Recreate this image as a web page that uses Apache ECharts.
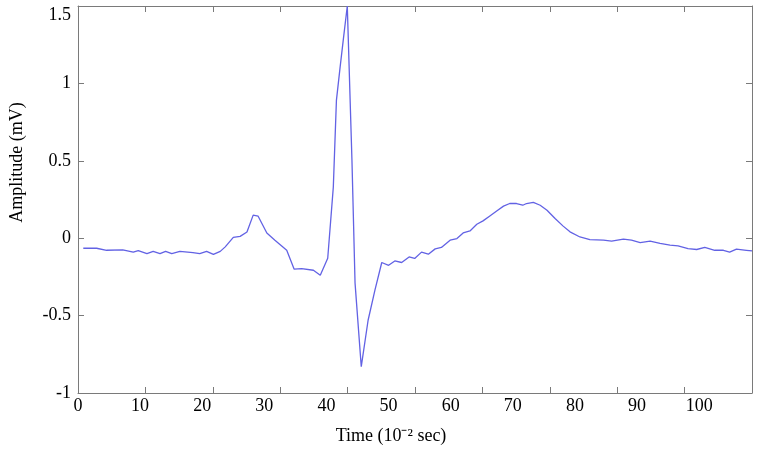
<!DOCTYPE html>
<html>
<head>
<meta charset="utf-8">
<script src="https://cdn.jsdelivr.net/npm/echarts@6/dist/echarts.min.js"></script>
<style>
html,body{margin:0;padding:0;background:#fff;}
#chart{width:760px;height:458px;}
</style>
</head>
<body>
<div id="chart"></div>
<script>
// Time (10^-2 sec)
const timeValues = [
  0.85, 3.0, 4.6, 7.2, 8.9, 9.7, 11.1, 12.1, 13.2, 14.1, 15.1, 16.4, 18.5, 19.6, 20.7, 21.8, 22.9, 23.7,
  25.0, 26.1, 27.2, 28.2, 29.0, 30.4, 31.7, 33.6, 34.8, 36.0, 37.9, 39.0, 40.2,
  41.1, 41.6, 42.2, 42.7, 43.35, 44.1, 44.6, 45.6, 46.7, 47.8, 48.9,
  50.0, 51.0, 52.1, 53.3, 54.2, 55.3, 56.4, 57.5, 58.5, 59.9, 61.0, 62.0, 63.1, 64.2, 65.2, 66.3, 67.4,
  68.5, 69.5, 70.6, 71.6, 72.2, 73.3, 74.4, 75.5, 76.8, 78.1, 79.2, 80.8, 82.4, 84.6, 85.9, 87.8,
  89.1, 90.5, 92.1, 93.7, 95.3, 96.6, 98.2, 99.6, 100.9, 102.5, 103.9, 104.9, 106.0, 107.6, 108.5
];
// Amplitude (mV)
const amplitudeValues = [
  -0.065, -0.065, -0.078, -0.075, -0.09, -0.08, -0.10, -0.085, -0.10, -0.085, -0.10, -0.085, -0.093, -0.10, -0.085, -0.105, -0.085, -0.056,
  0.005, 0.012, 0.04, 0.149, 0.142, 0.034, -0.013, -0.078, -0.2, -0.196, -0.207, -0.239, -0.13,
  0.33, 0.89, 1.107, 1.28, 1.5, 0.504, -0.29, -0.83, -0.53, -0.336, -0.157,
  -0.175, -0.147, -0.157, -0.121, -0.131, -0.09, -0.103, -0.069, -0.06, -0.013, -0.002, 0.034, 0.047, 0.09, 0.112, 0.144, 0.176,
  0.207, 0.224, 0.224, 0.213, 0.224, 0.231, 0.213, 0.181, 0.127, 0.078, 0.041, 0.008, -0.009, -0.013, -0.019, -0.006,
  -0.013, -0.028, -0.019, -0.034, -0.045, -0.05, -0.067, -0.073, -0.06, -0.078, -0.078, -0.09, -0.071, -0.078, -0.082
];
const yTickValues = [-1, -0.5, 0, 0.5, 1, 1.5];
const xLabelStep = 10;
const xTickMax = 100;
const xDataMax = 108.5;

const seriesData = timeValues.map((t, i) => [t, amplitudeValues[i]]);

const font = "'Liberation Serif', 'Times New Roman', serif";
const axisGray = '#7a7a7a';

const chart = echarts.init(document.getElementById('chart'), null, {renderer: 'canvas'});
chart.setOption({
  animation: false,
  backgroundColor: '#ffffff',
  grid: {left: 78, right: 8, top: 6, bottom: 65, containLabel: false},
  xAxis: [
    {
      type: 'value', position: 'bottom', min: 0, max: xDataMax, interval: xLabelStep,
      axisLine: {show: true, onZero: false, lineStyle: {color: axisGray, width: 1}},
      axisTick: {show: false},
      splitLine: {show: false},
      axisLabel: {color: '#000', fontFamily: font, fontSize: 18, margin: 4, showMaxLabel: false},
      name: 'Time (10\u207B\u00B2 sec)',
      nameLocation: 'middle', nameGap: 34,
      nameTextStyle: {color: '#000', fontFamily: font, fontSize: 18, padding: [0, 48, 0, 0]}
    },
    {
      type: 'value', position: 'bottom', min: 0, max: xTickMax, interval: xLabelStep,
      axisLine: {show: false, onZero: false},
      axisTick: {show: true, inside: true, length: 6, lineStyle: {color: axisGray}},
      axisLabel: {show: false}, splitLine: {show: false}
    },
    {
      type: 'value', position: 'top', min: 0, max: xTickMax, interval: xLabelStep,
      axisLine: {show: true, onZero: false, lineStyle: {color: axisGray, width: 1}},
      axisTick: {show: true, inside: true, length: 6, lineStyle: {color: axisGray}},
      axisLabel: {show: false}, splitLine: {show: false}
    }
  ],
  yAxis: [
    {
      type: 'value', position: 'left', min: yTickValues[0], max: yTickValues[yTickValues.length - 1], interval: 0.5,
      axisLine: {show: true, onZero: false, lineStyle: {color: axisGray, width: 1}},
      axisTick: {show: true, inside: true, length: 6, lineStyle: {color: axisGray}},
      splitLine: {show: false},
      axisLabel: {color: '#000', fontFamily: font, fontSize: 18, margin: 7, verticalAlignMaxLabel: 'top',
        formatter: v => String(v)},
      name: 'Amplitude (mV)', nameLocation: 'middle', nameGap: 52, nameRotate: 90,
      nameTextStyle: {color: '#000', fontFamily: font, fontSize: 18, padding: [0, 0, 0, 74]}
    },
    {
      type: 'value', position: 'right', min: yTickValues[0], max: yTickValues[yTickValues.length - 1], interval: 0.5,
      axisLine: {show: true, onZero: false, lineStyle: {color: axisGray, width: 1}},
      axisTick: {show: true, inside: true, length: 6, lineStyle: {color: axisGray}},
      axisLabel: {show: false}, splitLine: {show: false}
    }
  ],
  series: [{
    type: 'line', xAxisIndex: 0, yAxisIndex: 0,
    data: seriesData, showSymbol: false, symbol: 'none', smooth: false,
    lineStyle: {color: '#6262e4', width: 1.3},
    clip: false
  }]
});
</script>
</body>
</html>
